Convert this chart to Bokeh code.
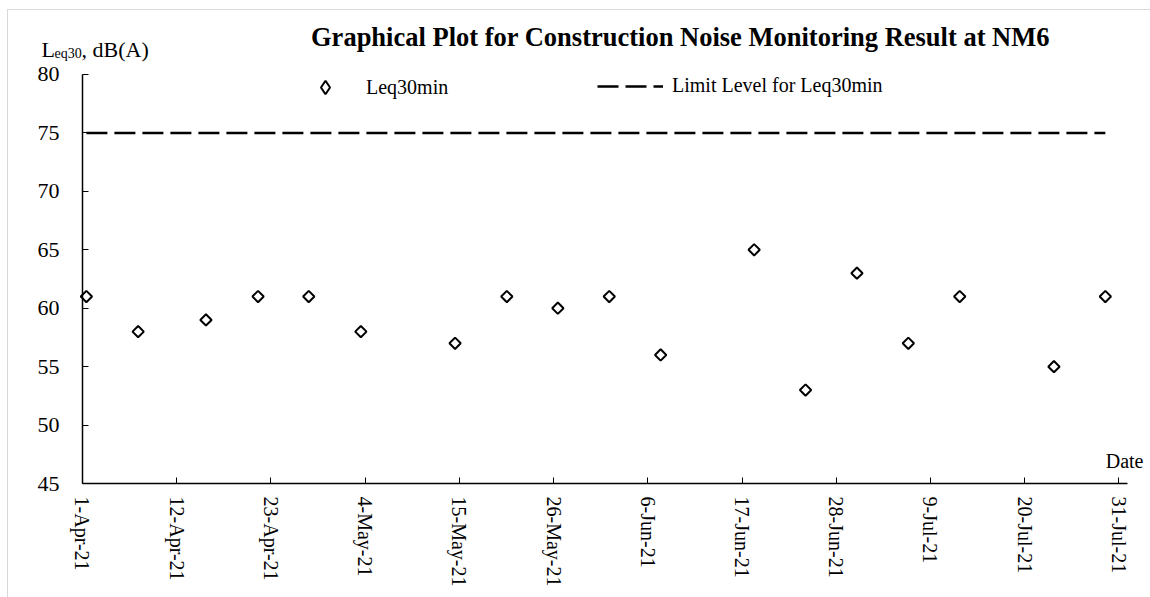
import numpy as np
import pandas as pd
from bokeh.plotting import figure
from bokeh.models import (Range1d, FixedTicker, Label, Legend, LegendItem,
                          ColumnDataSource, BoxAnnotation)
from bokeh.embed import file_html
from bokeh.resources import INLINE

# ---------------- data ----------------
title_text = "Graphical Plot for Construction Noise Monitoring Result at NM6"
dates = ["2021-04-01 11:00", "2021-04-07 12:00", "2021-04-15 10:00",
         "2021-04-21 12:00", "2021-04-27 10:00", "2021-05-03 12:00",
         "2021-05-14 12:00", "2021-05-20 13:00", "2021-05-26 12:00",
         "2021-06-01 12:00", "2021-06-07 12:00", "2021-06-18 10:00",
         "2021-06-24 10:00", "2021-06-30 10:00", "2021-07-06 10:00",
         "2021-07-12 10:00", "2021-07-23 10:00", "2021-07-29 10:00"]
leq30 = [61, 58, 59, 61, 61, 58, 57, 61, 60, 61, 56, 65, 53, 63, 57, 61, 55, 61]
limit_level = 75
tick_dates = ["2021-04-01", "2021-04-12", "2021-04-23", "2021-05-04",
              "2021-05-15", "2021-05-26", "2021-06-06", "2021-06-17",
              "2021-06-28", "2021-07-09", "2021-07-20", "2021-07-31"]
tick_labels = ["1-Apr-21", "12-Apr-21", "23-Apr-21", "4-May-21", "15-May-21",
               "26-May-21", "6-Jun-21", "17-Jun-21", "28-Jun-21", "9-Jul-21",
               "20-Jul-21", "31-Jul-21"]
y_ticks = [45, 50, 55, 60, 65, 70, 75, 80]
x_axis_start, x_axis_end = "2021-04-01", "2021-08-01"

DAY = 86400000


def to_ms(s):
    return int(pd.Timestamp(s).value // 10**6)


x_ms = [to_ms(d) for d in dates]
tick_ms = [to_ms(d) for d in tick_dates]

source = ColumnDataSource(dict(date=x_ms, leq=leq30,
                               limit=[limit_level] * len(leq30)))

FONT = "Liberation Serif"
W, H = 1150, 597

# the frame fills the whole canvas; the axes are pinned at fixed data
# locations so that the texts around the chart are not clipped
t0 = to_ms(x_axis_start)
p = figure(width=W, height=H, x_axis_type="datetime",
           x_range=Range1d(t0 - 9.57 * DAY, t0 + 124.69 * DAY),
           y_range=Range1d(35.25, 86.33),
           output_backend="svg", toolbar_location=None, min_border=0)
p.xgrid.visible = False
p.ygrid.visible = False
p.outline_line_color = None
p.background_fill_color = "white"
p.border_fill_color = "white"

line_r = p.line("date", "limit", source=source, line_color="black",
                line_width=2.5, line_dash="21 7")
pts_r = p.scatter("date", "leq", source=source, marker="square",
                  angle=np.pi / 4, size=8, fill_color="white",
                  line_color="black", line_width=2)
# legend key only (draws nothing on the chart): a diamond symbol
key_src = ColumnDataSource(dict(x=[np.nan], y=[np.nan]))
key_r = p.scatter("x", "y", source=key_src, marker="diamond",
                  fill_color="white", line_color="black", line_width=2)

# axes
xa = p.xaxis[0]
ya = p.yaxis[0]
xa.fixed_location = y_ticks[0]
xa.bounds = (to_ms(x_axis_start), to_ms(x_axis_end))
ya.fixed_location = to_ms(x_axis_start)
ya.bounds = (y_ticks[0], y_ticks[-1])
xa.ticker = FixedTicker(ticks=tick_ms)
xa.major_label_overrides = {t: lab for t, lab in zip(tick_ms, tick_labels)}
xa.major_label_orientation = -np.pi / 2
xa.major_label_standoff = 13
xa.major_label_text_font_size = "20px"
ya.ticker = FixedTicker(ticks=y_ticks)
ya.major_label_standoff = 23
ya.major_label_text_font_size = "22px"
for ax in (xa, ya):
    ax.axis_line_color = "black"
    ax.axis_line_width = 1.5
    ax.major_tick_in = 6
    ax.major_tick_out = 0
    ax.major_tick_line_color = "black"
    ax.major_tick_line_width = 1
    ax.minor_tick_line_color = None
    ax.major_label_text_font = FONT
    ax.major_label_text_color = "black"


def txt(x, y, text, size, align="left", style="normal"):
    p.add_layout(Label(x=x, y=H - y, x_units="screen", y_units="screen",
                       text=text, text_align=align,
                       text_baseline="alphabetic", text_font=FONT,
                       text_font_size=size, text_font_style=style,
                       text_color="black"))


txt(680, 36, title_text, "26.5px", align="center", style="bold")
txt(41, 49, "L", "22px")
txt(54, 53, "eq30", "14px")
txt(81, 49, ", dB(A)", "22px")
txt(1143, 460, "Date", "20px", align="right")

# chart border (top and left edges visible)
p.add_layout(BoxAnnotation(left=7, right=W + 50, top=H - 9, bottom=-50,
                           left_units="screen", right_units="screen",
                           top_units="screen", bottom_units="screen",
                           fill_alpha=0, line_color="#808080", line_width=1))


def make_legend(item, loc, gw, gh, standoff):
    return Legend(items=[item], location=loc, orientation="horizontal",
                  glyph_width=gw, glyph_height=gh, label_height=20,
                  label_standoff=standoff, padding=0, margin=0, spacing=0,
                  border_line_color=None, background_fill_alpha=0,
                  label_text_font=FONT, label_text_font_size="20px",
                  label_text_color="black")


p.add_layout(make_legend(LegendItem(label="Leq30min", renderers=[key_r]),
                         (308, H - 104), 34, 34, 24), "center")
p.add_layout(make_legend(LegendItem(label="Limit Level for Leq30min",
                                    renderers=[line_r]),
                         (597, H - 97), 66, 20, 9), "center")

open("out.html", "w").write(file_html(p, INLINE))
